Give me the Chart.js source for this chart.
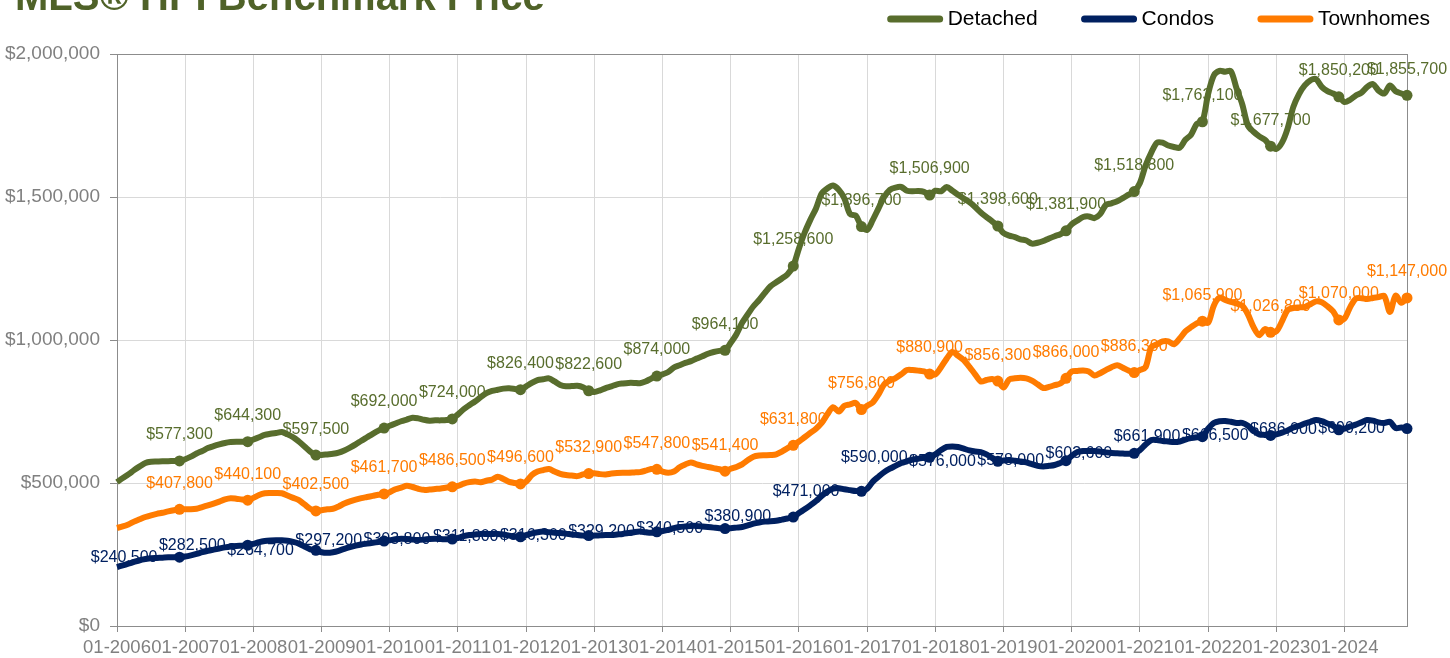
<!DOCTYPE html>
<html>
<head>
<meta charset="utf-8">
<title>MLS® HPI Benchmark Price</title>
<script src="https://cdn.jsdelivr.net/npm/chart.js"></script>
<style>
  html, body { margin: 0; padding: 0; background: #fff; }
  #wrap { width: 1450px; height: 658px; }
</style>
</head>
<body>
<div id="wrap"><canvas id="grafica" width="1450" height="658"></canvas></div>
<script>
// Monthly benchmark prices, 01-2006 .. 12-2024 (one row = one year, Jan..Dec)
const chartTitle = 'MLS® HPI Benchmark Price';
const years = [2006, 2007, 2008, 2009, 2010, 2011, 2012, 2013, 2014, 2015,
               2016, 2017, 2018, 2019, 2020, 2021, 2022, 2023, 2024];

const detached = [
  503000, 517000, 530000, 545000, 558000, 570000, 574000, 575000, 576000, 576000, 577000, 577300,
  583000, 592000, 603000, 612000, 622000, 629000, 635000, 640000, 643000, 644000, 644000, 644300,
  652000, 660000, 668000, 672000, 675000, 678000, 670000, 660000, 645000, 628000, 610000, 597500,
  598000, 600000, 602000, 606000, 614000, 624000, 635000, 648000, 660000, 672000, 683000, 692000,
  700000, 708000, 716000, 722000, 728000, 726000, 721000, 718000, 719000, 719000, 720000, 724000,
  740000, 758000, 772000, 785000, 800000, 814000, 822000, 826000, 830000, 831000, 829000, 826400,
  838000, 850000, 860000, 863000, 866000, 855000, 843000, 838000, 839000, 840000, 835000, 822600,
  818000, 824000, 832000, 838000, 845000, 848000, 850000, 850000, 849000, 855000, 865000, 874000,
  880000, 888000, 904000, 912000, 920000, 926000, 935000, 943000, 952000, 958000, 962000, 964100,
  990000, 1020000, 1060000, 1090000, 1118000, 1140000, 1165000, 1188000, 1202000, 1215000, 1230000, 1258600,
  1320000, 1375000, 1420000, 1460000, 1512000, 1530000, 1540000, 1525000, 1495000, 1440000, 1435000, 1396700,
  1385000, 1420000, 1460000, 1500000, 1525000, 1533000, 1535000, 1522000, 1520000, 1521000, 1518000, 1506900,
  1522000, 1520000, 1535000, 1522000, 1508000, 1495000, 1482000, 1465000, 1446000, 1430000, 1415000, 1398600,
  1374000, 1365000, 1360000, 1352000, 1348000, 1337000, 1340000, 1346000, 1355000, 1363000, 1370000, 1381900,
  1405000, 1418000, 1430000, 1432000, 1426000, 1440000, 1472000, 1478000, 1485000, 1496000, 1508000, 1518800,
  1549000, 1610000, 1655000, 1690000, 1690000, 1680000, 1675000, 1672000, 1700000, 1718000, 1755000, 1763100,
  1860000, 1925000, 1941000, 1938000, 1940000, 1880000, 1825000, 1750000, 1728000, 1712000, 1700000, 1677700,
  1668000, 1690000, 1740000, 1815000, 1860000, 1890000, 1908000, 1912000, 1885000, 1870000, 1862000, 1850200,
  1832000, 1840000, 1855000, 1865000, 1885000, 1895000, 1872000, 1862000, 1890000, 1870000, 1862000, 1855700
];

const condos = [
  206000, 212000, 218000, 224000, 230000, 234000, 237000, 238000, 239000, 240000, 240000, 240500,
  243000, 247000, 252000, 258000, 263000, 267000, 271000, 275000, 278000, 280000, 281000, 282500,
  287000, 293000, 297000, 299000, 300000, 300000, 298000, 294000, 288000, 278000, 268000, 264700,
  258000, 256000, 258000, 263000, 270000, 276000, 281000, 285000, 288000, 291000, 294000, 297200,
  300000, 303000, 305000, 304000, 302000, 301000, 302000, 304000, 305000, 304000, 303000, 303800,
  308000, 314000, 318000, 320000, 322000, 322000, 322000, 322000, 320000, 316000, 313000, 311800,
  318000, 324000, 328000, 330000, 328000, 326000, 325000, 323000, 320000, 318000, 316000, 316300,
  316000, 317000, 318000, 318000, 320000, 322000, 325000, 328000, 330000, 328000, 326000, 329200,
  332000, 336000, 342000, 346000, 348000, 350000, 350000, 348000, 346000, 344000, 342000, 340500,
  342000, 344000, 346000, 352000, 358000, 362000, 365000, 366000, 368000, 372000, 376000, 380900,
  395000, 408000, 422000, 437000, 455000, 470000, 480000, 482000, 478000, 475000, 472000, 471000,
  480000, 505000, 522000, 538000, 550000, 560000, 570000, 576000, 582000, 585000, 588000, 590000,
  600000, 615000, 626000, 628000, 626000, 620000, 614000, 610000, 608000, 600000, 588000, 576000,
  579000, 580000, 578000, 575000, 572000, 566000, 560000, 558000, 560000, 563000, 570000, 578000,
  595000, 608000, 612000, 612000, 612000, 610000, 607000, 605000, 604000, 603000, 602000, 603600,
  615000, 635000, 650000, 650000, 647000, 645000, 643000, 645000, 652000, 657000, 660000, 661900,
  690000, 710000, 716000, 717000, 714000, 710000, 710000, 700000, 682000, 670000, 668000, 666500,
  670000, 676000, 684000, 694000, 700000, 708000, 714000, 720000, 716000, 708000, 700000, 686000,
  690000, 698000, 704000, 712000, 720000, 718000, 712000, 710000, 714000, 692000, 694000, 690200
];

const townhomes = [
  343000, 348000, 355000, 365000, 373000, 381000, 387000, 392000, 396000, 401000, 405000, 407800,
  408000, 408000, 410000, 416000, 422000, 428000, 435000, 443000, 447000, 445000, 442000, 440100,
  448000, 458000, 464000, 465000, 465000, 464000, 456000, 448000, 440000, 425000, 410000, 402500,
  405000, 408000, 410000, 418000, 428000, 436000, 442000, 447000, 451000, 455000, 459000, 461700,
  468000, 478000, 484000, 490000, 486000, 480000, 476000, 477000, 479000, 481000, 484000, 486500,
  490000, 498000, 503000, 505000, 503000, 508000, 512000, 522000, 514000, 504000, 500000, 496600,
  505000, 528000, 540000, 545000, 549000, 540000, 532000, 528000, 526000, 524000, 530000, 532900,
  534000, 531000, 530000, 533000, 535000, 536000, 536000, 537000, 538000, 543000, 549000, 547800,
  540000, 536000, 540000, 555000, 565000, 572000, 565000, 560000, 556000, 552000, 548000, 541400,
  550000, 556000, 565000, 580000, 592000, 596000, 597000, 598000, 600000, 610000, 622000, 631800,
  645000, 660000, 675000, 690000, 710000, 740000, 765000, 750000, 770000, 775000, 780000, 756800,
  770000, 782000, 810000, 845000, 858000, 867000, 880000, 895000, 895000, 893000, 890000, 880900,
  880000, 905000, 935000, 958000, 945000, 930000, 906000, 880000, 855000, 860000, 864000, 856300,
  834000, 862000, 866000, 868000, 866000, 858000, 845000, 832000, 836000, 842000, 848000, 866000,
  890000, 892000, 893000, 890000, 876000, 884000, 895000, 905000, 912000, 903000, 893000, 886300,
  895000, 905000, 975000, 985000, 995000, 995000, 985000, 1005000, 1030000, 1045000, 1058000, 1065900,
  1060000, 1120000, 1148000, 1140000, 1133000, 1128000, 1120000, 1090000, 1045000, 1017000, 1038000, 1026800,
  1030000, 1065000, 1105000, 1112000, 1114000, 1115000, 1125000, 1135000, 1132000, 1118000, 1100000, 1070000,
  1075000, 1115000, 1145000, 1146000, 1143000, 1147000, 1150000, 1154000, 1098000, 1155000, 1130000, 1147000
];

// y axis
const yMin = 0;
const yMax = 2000000;
const yStep = 500000;

// category labels "MM-YYYY"
const months = [];
years.forEach(y => {
  for (let m = 1; m <= 12; m++) months.push(String(m).padStart(2, '0') + '-' + y);
});

const fuente = '"Liberation Sans", Arial, Helvetica, sans-serif';
const colDetached = '#586D2D';
const colCondos = '#002060';
const colTownhomes = '#FF7B00';
const labelLeft = ['Condos']; // these series carry their labels to the left of the marker

const money = v => '$' + Math.round(v).toLocaleString('en-US');
const isMarker = i => i % 12 === 11;   // December of every year
const isYearStart = i => i % 12 === 0;

// title, partly above the page edge as in the original
const tituloPlugin = {
  id: 'titulo',
  afterDraw(chart) {
    const ctx = chart.ctx;
    ctx.save();
    ctx.font = 'bold 40px ' + fuente;
    ctx.fillStyle = '#4F6228';
    ctx.textAlign = 'left';
    ctx.textBaseline = 'alphabetic';
    ctx.fillText(chartTitle, 15, 10);
    ctx.restore();
  }
};

// legend with line samples, top right
const leyendaPlugin = {
  id: 'leyenda',
  afterDraw(chart) {
    const ctx = chart.ctx;
    const y = 19;
    let x = 1430;
    ctx.save();
    ctx.font = '21px ' + fuente;
    ctx.textBaseline = 'middle';
    ctx.textAlign = 'left';
    chart.data.datasets.slice().reverse().forEach(ds => {
      const w = ctx.measureText(ds.label).width;
      x -= w;
      ctx.fillStyle = '#000';
      ctx.fillText(ds.label, x, y);
      x -= 4;
      ctx.strokeStyle = ds.borderColor;
      ctx.lineWidth = 7;
      ctx.lineCap = 'round';
      ctx.beginPath();
      ctx.moveTo(x - 53, y);
      ctx.lineTo(x - 4, y);
      ctx.stroke();
      x -= 56 + 44;
    });
    ctx.restore();
  }
};

// plot area frame + value labels at the yearly markers (lines are drawn over them)
const etiquetasPlugin = {
  id: 'etiquetas',
  beforeDatasetsDraw(chart) {
    const ctx = chart.ctx;
    const a = chart.chartArea;
    ctx.save();
    ctx.strokeStyle = '#8C8C8C';
    ctx.lineWidth = 1;
    ctx.strokeRect(a.left + 0.5, a.top + 0.5, a.right - a.left, a.bottom - a.top);

    ctx.font = '16px ' + fuente;
    ctx.textBaseline = 'middle';
    chart.data.datasets.forEach((ds, d) => {
      const meta = chart.getDatasetMeta(d);
      const izquierda = labelLeft.includes(ds.label);
      ctx.fillStyle = ds.borderColor;
      meta.data.forEach((pt, i) => {
        if (!isMarker(i)) return;
        const txt = money(ds.data[i]);
        if (izquierda) {
          ctx.textAlign = 'right';
          ctx.fillText(txt, pt.x - 22, pt.y);
        } else {
          ctx.textAlign = 'center';
          ctx.fillText(txt, pt.x, pt.y - 26);
        }
      });
    });
    ctx.restore();
  }
};

function serie(label, data, color) {
  return {
    label: label,
    data: data,
    borderColor: color,
    backgroundColor: color,
    borderWidth: 6,
    tension: 0.3,
    fill: false,
    clip: false,
    pointRadius: c => isMarker(c.dataIndex) ? 5.5 : 0,
    pointHoverRadius: c => isMarker(c.dataIndex) ? 5.5 : 0,
    pointBackgroundColor: color,
    pointBorderWidth: 0
  };
}

const ctx = document.getElementById('grafica').getContext('2d');
new Chart(ctx, {
  type: 'line',
  data: {
    labels: months,
    datasets: [
      serie('Detached', detached, colDetached),
      serie('Condos', condos, colCondos),
      serie('Townhomes', townhomes, colTownhomes)
    ]
  },
  plugins: [etiquetasPlugin, tituloPlugin, leyendaPlugin],
  options: {
    responsive: false,
    animation: false,
    devicePixelRatio: 1,
    layout: { padding: { top: 54, right: 43, bottom: 0, left: 0 } },
    plugins: {
      legend: { display: false },
      title: { display: false },
      tooltip: { enabled: false }
    },
    scales: {
      x: {
        type: 'category',
        offset: false,
        border: { color: '#8C8C8C' },
        grid: {
          color: c => isYearStart(c.index) ? '#D9D9D9' : 'rgba(0,0,0,0)',
          tickColor: c => isYearStart(c.index) ? '#8C8C8C' : 'rgba(0,0,0,0)',
          tickLength: 6
        },
        ticks: {
          autoSkip: false,
          maxRotation: 0,
          minRotation: 0,
          padding: 5,
          color: '#808080',
          font: { family: fuente, size: 18.5 },
          callback: (v, i) => isYearStart(i) ? months[i] : ''
        },
        afterFit: s => { s.height = 32; }
      },
      y: {
        min: yMin,
        max: yMax,
        border: { color: '#8C8C8C' },
        grid: { color: '#D9D9D9', tickColor: '#8C8C8C', tickLength: 7 },
        ticks: {
          stepSize: yStep,
          padding: 10,
          color: '#808080',
          font: { family: fuente, size: 19 },
          callback: v => money(v)
        },
        afterFit: s => { s.width = 117; }
      }
    }
  }
});
</script>
</body>
</html>
